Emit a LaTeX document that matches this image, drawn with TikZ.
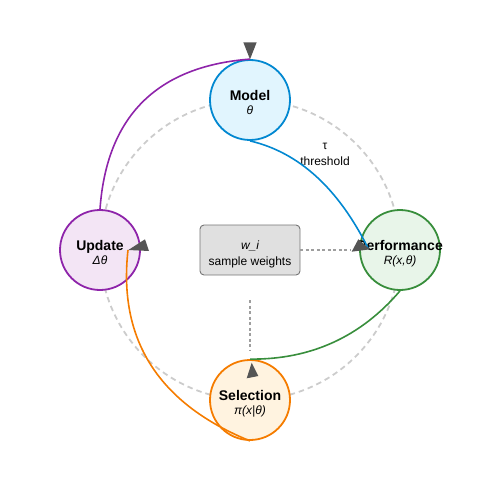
\documentclass[tikz,border=0pt]{standalone}
\usepackage{fontspec}
\setmainfont{Liberation Sans}
\usetikzlibrary{calc}
\definecolor{mblue}{HTML}{0288D1}\definecolor{mbluef}{HTML}{E1F5FE}
\definecolor{mgreen}{HTML}{388E3C}\definecolor{mgreenf}{HTML}{E8F5E9}
\definecolor{morange}{HTML}{F57C00}\definecolor{morangef}{HTML}{FFF3E0}
\definecolor{mpurple}{HTML}{8E24AA}\definecolor{mpurplef}{HTML}{F3E5F5}
\definecolor{ringc}{HTML}{CCCCCC}\definecolor{dotc}{HTML}{9E9E9E}
\definecolor{boxf}{HTML}{E0E0E0}\definecolor{boxd}{HTML}{757575}
\definecolor{headc}{HTML}{555555}
\tikzset{
  ring/.style={draw=ringc, line width=1.8pt, dash pattern=on 5.5pt off 4pt},
  stage/.style={circle, minimum size=80pt, inner sep=0pt, line width=1.8pt},
  title/.style={anchor=base, inner sep=0pt, font=\bfseries\fontsize{14}{16}\selectfont},
  sub/.style={anchor=base, inner sep=0pt, font=\itshape\fontsize{12}{14}\selectfont},
  plain/.style={anchor=base, inner sep=0pt, font=\fontsize{12}{14}\selectfont},
  flow/.style={line width=1.6pt},
  dotline/.style={draw=dotc, line width=1.5pt, dash pattern=on 3pt off 2.5pt},
  head/.style={fill=headc},
  wbox/.style={rectangle, rounded corners=4pt, fill=boxf, draw=boxd, line width=0.9pt, minimum width=100pt, minimum height=50pt, inner sep=0pt}
}
\begin{document}
\begin{tikzpicture}[x=1pt,y=-1pt]
\useasboundingbox (0,0) rectangle (500,500);
\draw[ring] (250,250) circle[radius=150];

\node[stage, draw=mblue, fill=mbluef] (m) at (250,100) {};
\node[stage, draw=mgreen, fill=mgreenf] (p) at (400,250) {};
\node[stage, draw=morange, fill=morangef] (s) at (250,400) {};
\node[stage, draw=mpurple, fill=mpurplef] (u) at (100,250) {};
\node[wbox] (b) at (250,250) {};

\node[title] at (250,100.3) {Model};
\node[sub] at (250,114.5) {θ};
\node[title] at (400,250.3) {Performance};
\node[sub] at (400,264.5) {R(x,θ)};
\node[title] at (250,400.3) {Selection};
\node[sub] at (250,414.5) {π(x|θ)};
\node[title] at (100,250.3) {Update};
\node[sub] at (100,264.5) {Δθ};
\node[sub] at (250,249.5) {w\_i};
\node[plain] at (250,265) {sample weights};
\node[plain] at (325,149) {τ};
\node[plain] at (325,165) {threshold};

\coordinate (pe) at (368,248);
\coordinate (ue) at (128,250);
\draw[flow, draw=mblue] (m.south) .. controls ($(m.south)!2/3!(323,158)$) and ($(pe)!2/3!(323,158)$) .. (pe);
\draw[flow, draw=mgreen] (p.south) .. controls ($(p.south)!2/3!(341,360)$) and ($(s.north)!2/3!(341,360)$) .. (s.north);
\draw[flow, draw=morange] (s.south) .. controls ($(s.south)!2/3!(113,385)$) and ($(ue)!2/3!(113,385)$) .. (ue);
\draw[flow, draw=mpurple] (u.north) .. controls ($(u.north)!2/3!(110,70)$) and ($(m.north)!2/3!(110,70)$) .. (m.north);

\draw[dotline] (b.east) -- ([xshift=-8pt]p.west);
\draw[dotline] ([yshift=-25pt]b.south) -- ([yshift=9pt]s.north);

\fill[head] (243.3,42.3) -- (256.7,42.3) -- (250,59.3) -- cycle;
\fill[head] (351.7,251.7) -- (358.3,239.3) -- (370,249.3) -- cycle;
\fill[head] (128.3,250) -- (145,239.3) -- (149,251) -- cycle;
\fill[head] (246.7,378.3) -- (251.7,362.7) -- (258.3,376) -- cycle;
\end{tikzpicture}
\end{document}
